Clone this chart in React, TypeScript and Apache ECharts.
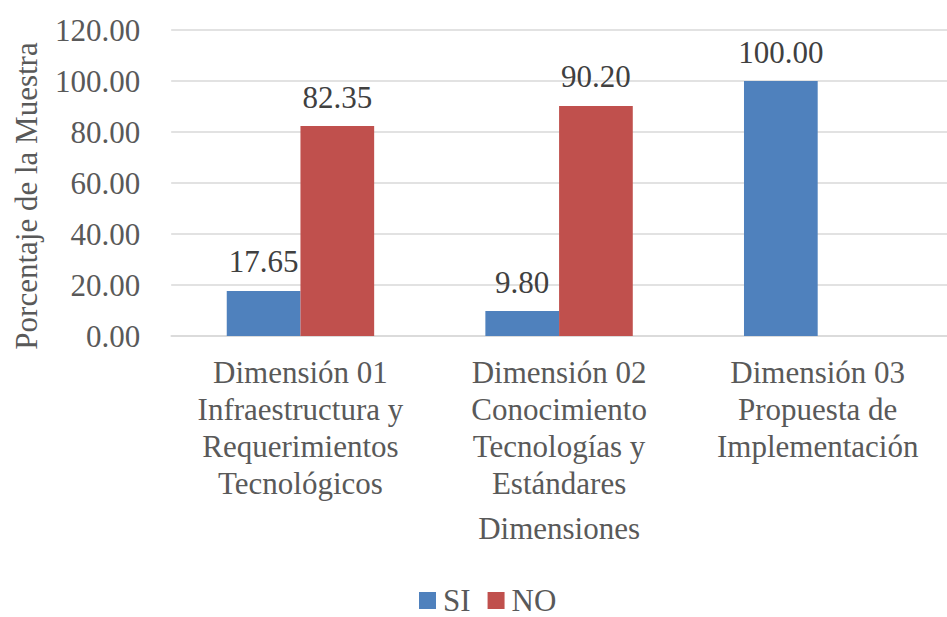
import React, { useEffect, useRef } from "react";
import * as echarts from "echarts";

const categories = [
  "Dimensión 01\nInfraestructura y\nRequerimientos\nTecnológicos",
  "Dimensión 02\nConocimiento\nTecnologías y\nEstándares",
  "Dimensión 03\nPropuesta de\nImplementación",
];
const siValues = [17.65, 9.8, 100.0];
const noValues: (number | null)[] = [82.35, 90.2, null];
const seriesNames = ["SI", "NO"];
const yTicks = { min: 0, max: 120, interval: 20 };

const FONT = '"Liberation Serif", "Times New Roman", serif';

export default function App() {
  const ref = useRef<HTMLDivElement>(null);
  useEffect(() => {
    document.body.style.margin = "0";
    if (!ref.current) return;
    const chart = echarts.init(ref.current, undefined, { renderer: "svg" });
    const labelStyle = {
      show: true,
      position: "top" as const,
      distance: 11,
      fontFamily: FONT,
      fontSize: 31,
      lineHeight: 36,
      color: "#404040",
      formatter: (p: any) => (p.value == null ? "" : Number(p.value).toFixed(2)),
    };
    chart.setOption({
      animation: false,
      backgroundColor: "#ffffff",
      grid: { left: 166, right: -11, top: 30, bottom: 281, containLabel: false },
      legend: {
        data: seriesNames,
        left: 414,
        top: 580,
        itemWidth: 17,
        itemHeight: 17,
        itemGap: 17,
        icon: "rect",
        textStyle: {
          fontFamily: FONT,
          fontSize: 31,
          lineHeight: 28,
          color: "#595959",
          padding: [0, 0, 0, 2],
        },
      },
      xAxis: {
        type: "category",
        data: categories,
        name: "Dimensiones",
        nameLocation: "middle",
        nameGap: 174,
        nameTextStyle: { fontFamily: FONT, fontSize: 31, color: "#595959", lineHeight: 36 },
        axisLine: { show: true, lineStyle: { color: "#d9d9d9", width: 1.5 } },
        axisTick: { show: false },
        axisLabel: {
          interval: 0,
          margin: 18,
          fontFamily: FONT,
          fontSize: 31,
          lineHeight: 37,
          color: "#595959",
        },
      },
      yAxis: {
        type: "value",
        min: yTicks.min,
        max: yTicks.max,
        interval: yTicks.interval,
        name: "Porcentaje de la Muestra",
        nameLocation: "middle",
        nameGap: 123,
        nameTextStyle: {
          fontFamily: FONT,
          fontSize: 31,
          color: "#595959",
          lineHeight: 36,
          padding: [0, 26, 0, 0],
        },
        axisLine: { show: false },
        axisTick: { show: false },
        splitLine: { show: true, lineStyle: { color: "#d9d9d9", width: 1.5 } },
        axisLabel: {
          margin: 31,
          fontFamily: FONT,
          fontSize: 31,
          color: "#595959",
          formatter: (v: number) => v.toFixed(2),
        },
      },
      series: [
        {
          name: seriesNames[0],
          type: "bar",
          data: siValues,
          barGap: "0%",
          barCategoryGap: "43%",
          itemStyle: { color: "#4F81BD" },
          label: labelStyle,
        },
        {
          name: seriesNames[1],
          type: "bar",
          data: noValues,
          barGap: "0%",
          barCategoryGap: "43%",
          itemStyle: { color: "#C0504D" },
          label: labelStyle,
        },
      ],
    });
    return () => chart.dispose();
  }, []);
  return <div ref={ref} style={{ width: 947, height: 617 }} />;
}
